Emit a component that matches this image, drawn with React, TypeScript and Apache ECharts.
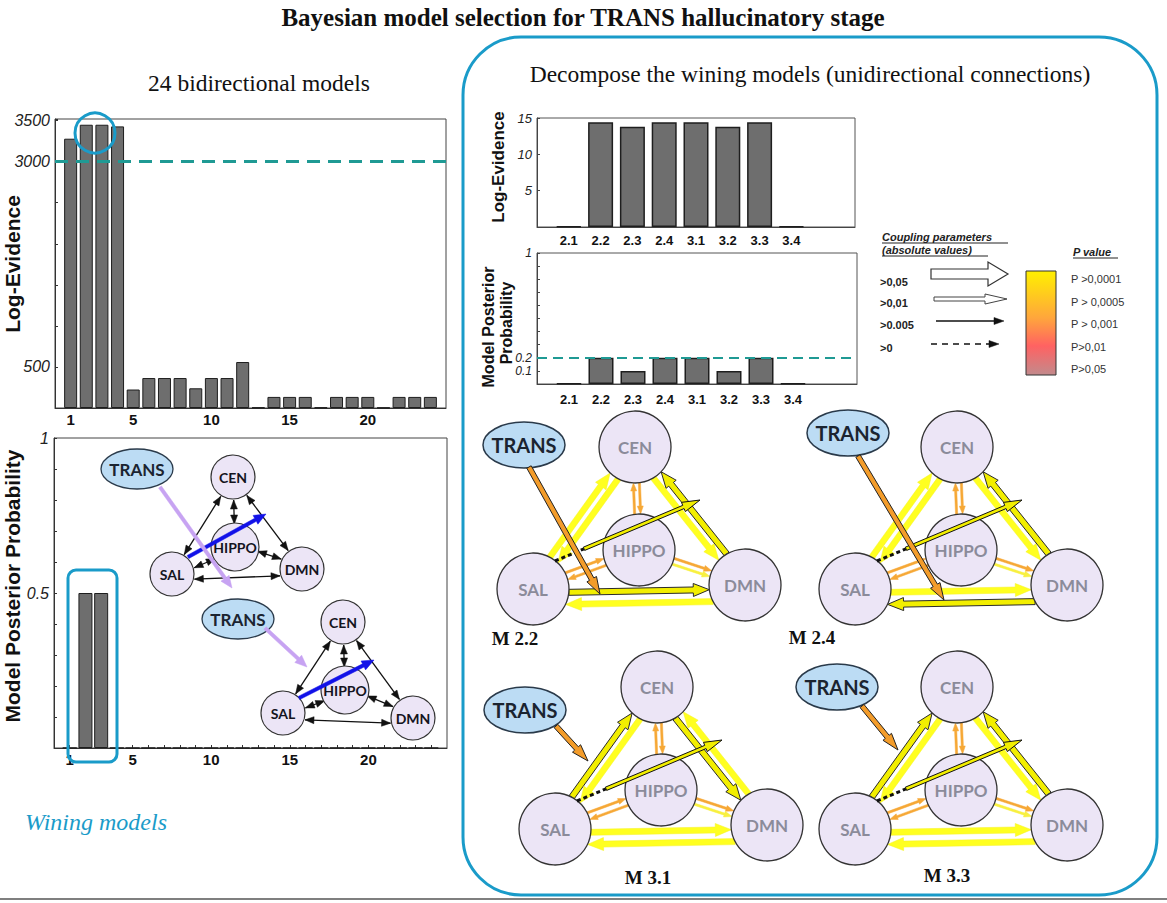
import React, { useEffect, useRef } from 'react';
import * as echarts from 'echarts';

// ---------------- DATA ----------------
const modelIds = [1, 2, 3, 4, 5, 6, 7, 8, 9, 10, 11, 12, 13, 14, 15, 16, 17, 18, 19, 20, 21, 22, 23, 24];
const logEvidence24 = [3280, 3450, 3450, 3430, 225, 365, 365, 365, 240, 365, 365, 560, 6, 135, 135, 135, 6, 135, 135, 135, 4, 135, 135, 135];
const posterior24 = [0, 0.5, 0.5, 0, 0, 0, 0, 0, 0, 0, 0, 0, 0, 0, 0, 0, 0, 0, 0, 0, 0, 0, 0, 0];
const xTickLabels24 = [1, 5, 10, 15, 20];
const logEvTickLabels = [500, 3000, 3500];
const postTickLabelsLeft = [0.5, 1];
const logEvThreshold = 3000;

const winningModels = ['2.1', '2.2', '2.3', '2.4', '3.1', '3.2', '3.3', '3.4'];
const modelSlots = [1, 2, 3, 4, 5, 6, 7, 8];
const logEvidence8 = [0.1, 14.4, 13.8, 14.4, 14.4, 13.8, 14.4, 0.1];
const posterior8 = [0.004, 0.2, 0.1, 0.2, 0.2, 0.1, 0.2, 0.004];
const logEvTickLabelsRight = [5, 10, 15];
const postTickLabelsRight = [0.1, 0.2, 1];
const postThreshold = 0.2;

const couplingLabels = ['>0,05', '>0,01', '>0.005', '>0'];
const pValueLabels = ['P >0,0001', 'P > 0,0005', 'P > 0,001', 'P>0,01', 'P>0,05'];

// ---------------- STYLE HELPERS ----------------
const SANS = '"Liberation Sans", Arial, sans-serif';
const SERIF = '"Liberation Serif", "Times New Roman", serif';
const NODEF = 'Lato, "Open Sans", sans-serif';
const TEAL = '#1a9bc9';
const DASH = '#1f9a94';

type P = [number, number];

function unit(a: P, b: P) {
  const dx = b[0] - a[0];
  const dy = b[1] - a[1];
  const L = Math.hypot(dx, dy) || 1;
  return [dx / L, dy / L, L];
}

function arrowPoints(a: P, b: P, sw: number, hw: number, hl: number) {
  const [ux, uy, L] = unit(a, b);
  const nx = -uy;
  const ny = ux;
  const h = Math.min(hl, L * 0.6);
  const bx = b[0] - ux * h;
  const by = b[1] - uy * h;
  return [
    [a[0] + (nx * sw) / 2, a[1] + (ny * sw) / 2],
    [bx + (nx * sw) / 2, by + (ny * sw) / 2],
    [bx + (nx * hw) / 2, by + (ny * hw) / 2],
    [b[0], b[1]],
    [bx - (nx * hw) / 2, by - (ny * hw) / 2],
    [bx - (nx * sw) / 2, by - (ny * sw) / 2],
    [a[0] - (nx * sw) / 2, a[1] - (ny * sw) / 2],
  ];
}

function polyArrow(a: P, b: P, sw: number, hw: number, hl: number, fill: string, stroke?: string, lw?: number, z = 20) {
  return {
    type: 'polygon',
    z,
    silent: true,
    shape: { points: arrowPoints(a, b, sw, hw, hl) },
    style: { fill, stroke: stroke || fill, lineWidth: lw || 0.5 },
  };
}

function headTri(a: P, b: P, len: number, w: number, fill: string, z = 20) {
  const [ux, uy] = unit(a, b);
  const nx = -uy;
  const ny = ux;
  const bx = b[0] - ux * len;
  const by = b[1] - uy * len;
  return {
    type: 'polygon',
    z,
    silent: true,
    shape: { points: [[b[0], b[1]], [bx + (nx * w) / 2, by + (ny * w) / 2], [bx - (nx * w) / 2, by - (ny * w) / 2]] },
    style: { fill, stroke: fill, lineWidth: 0.5 },
  };
}

function edgeEnds(c1: P, c2: P, r1: number, r2: number, off: number): [P, P] {
  const [ux, uy] = unit(c1, c2);
  const nx = -uy;
  const ny = ux;
  const d1 = Math.sqrt(Math.max(r1 * r1 - off * off, 0));
  const d2 = Math.sqrt(Math.max(r2 * r2 - off * off, 0));
  return [
    [c1[0] + ux * d1 + nx * off, c1[1] + uy * d1 + ny * off],
    [c2[0] - ux * d2 + nx * off, c2[1] - uy * d2 + ny * off],
  ];
}

function txt(x: number, y: number, text: string, size: number, opts: any = {}) {
  return {
    type: 'text',
    x,
    y,
    z: 30,
    silent: true,
    rotation: opts.rotation || 0,
    style: {
      text,
      fill: opts.fill || '#111',
      fontSize: size,
      fontFamily: opts.family || SANS,
      fontWeight: opts.weight || 'normal',
      fontStyle: opts.style || 'normal',
      align: opts.align || 'center',
      verticalAlign: opts.valign || 'middle',
    },
  };
}

// ---------------- RIGHT NETWORKS ----------------
type RNet = { cen: P; trans: P; tFrom: P; tTo: P; label: string; labelPos: P; outlined: string[] };
const rightNets: RNet[] = [
  { cen: [635, 447], trans: [524, 445], tFrom: [529, 467], tTo: [600, 594], label: 'M 2.2', labelPos: [515, 638], outlined: ['SAL>DMN', 'DMN>CEN'] },
  { cen: [957, 447], trans: [848, 433], tFrom: [858, 456], tTo: [944, 600], label: 'M 2.4', labelPos: [812, 637], outlined: ['DMN>SAL', 'DMN>CEN'] },
  { cen: [657, 687], trans: [525, 710], tFrom: [556, 726], tTo: [588, 761], label: 'M 3.1', labelPos: [648, 877], outlined: ['SAL>CEN', 'CEN>DMN'] },
  { cen: [957, 687], trans: [837, 687], tFrom: [862, 706], tTo: [898, 750], label: 'M 3.3', labelPos: [947, 875], outlined: ['SAL>CEN', 'DMN>CEN'] },
];

function rightNet(cfg: RNet) {
  const C = cfg.cen;
  const N: Record<string, P> = {
    CEN: C,
    HIPPO: [C[0] + 4, C[1] + 103],
    SAL: [C[0] - 102, C[1] + 142],
    DMN: [C[0] + 110, C[1] + 138],
  };
  const R = 36;
  const els: any[] = [];
  const yellow = (A: string, B: string, off: number, dir: 1 | -1) => {
    const [p, q] = edgeEnds(N[A], N[B], R, R, off);
    const from = dir === 1 ? p : q;
    const to = dir === 1 ? q : p;
    const key = dir === 1 ? `${A}>${B}` : `${B}>${A}`;
    const outl = cfg.outlined.indexOf(key) >= 0;
    els.push(polyArrow(from, to, 6, 13, 16, outl ? '#f2ee00' : '#ffff20', outl ? '#2a2a2a' : '#f5f020', outl ? 1 : 0.5, 12));
  };
  const thin = (A: string, B: string, off: number, dir: 1 | -1, col: string) => {
    const [p, q] = edgeEnds(N[A], N[B], R, R, off);
    const from = dir === 1 ? p : q;
    const to = dir === 1 ? q : p;
    els.push(polyArrow(from, to, 2.2, 6, 8, col, col, 0.5, 12));
  };
  const OR = '#f6a836';
  yellow('SAL', 'CEN', -5, 1);
  yellow('SAL', 'CEN', 5, -1);
  yellow('CEN', 'DMN', 5, 1);
  yellow('CEN', 'DMN', -5, -1);
  yellow('SAL', 'DMN', 4, 1);
  yellow('SAL', 'DMN', 16, -1);
  thin('CEN', 'HIPPO', -3, 1, OR);
  thin('CEN', 'HIPPO', 3, -1, OR);
  thin('SAL', 'HIPPO', -4, 1, OR);
  thin('SAL', 'HIPPO', 3, -1, OR);
  thin('HIPPO', 'DMN', -3, 1, OR);
  thin('HIPPO', 'DMN', 3, 1, '#f8f040');

  (['CEN', 'HIPPO', 'SAL', 'DMN'] as string[]).forEach((k) => {
    els.push({ type: 'circle', z: 14, silent: true, shape: { cx: N[k][0], cy: N[k][1], r: R }, style: { fill: '#ece5f6', stroke: '#333', lineWidth: 1.3 } });
    els.push({ ...txt(N[k][0], N[k][1], k, 17, { weight: 'bold', family: NODEF, fill: '#8b8b9a' }), z: 15 });
  });

  const s: P = [N.SAL[0] + 22, N.SAL[1] - 28];
  const e: P = [C[0] + 65, C[1] + 53];
  const m: P = [s[0] + (e[0] - s[0]) * 0.2, s[1] + (e[1] - s[1]) * 0.2];
  els.push({ type: 'line', z: 18, silent: true, shape: { x1: s[0], y1: s[1], x2: m[0], y2: m[1] }, style: { stroke: '#111', lineWidth: 3, lineDash: [4, 3] } });
  els.push(polyArrow(m, e, 3.5, 10, 18, '#f2ee00', '#111', 1, 18));

  els.push(polyArrow(cfg.tFrom, cfg.tTo, 5, 11, 17, '#f39c2a', '#222', 1, 19));
  els.push({ type: 'ellipse', z: 16, silent: true, shape: { cx: cfg.trans[0], cy: cfg.trans[1], rx: 41, ry: 23 }, style: { fill: '#bcdcf4', stroke: '#2a3a4a', lineWidth: 1.5 } });
  els.push({ ...txt(cfg.trans[0], cfg.trans[1], 'TRANS', 20, { weight: 'bold', family: NODEF, fill: '#1b2430' }), z: 17 });
  els.push(txt(cfg.labelPos[0], cfg.labelPos[1], cfg.label, 19, { weight: 'bold', family: SERIF }));
  return els;
}

// ---------------- LEFT NETWORKS ----------------
type LNet = { trans: P; cen: P; hippo: P; sal: P; dmn: P; blue: [P, P]; purple: [P, P] };
const leftNets: LNet[] = [
  { trans: [137, 469], cen: [233, 477], hippo: [235, 547], sal: [172, 574], dmn: [302, 569], blue: [[188, 557], [266, 514]], purple: [[160, 487], [232, 588]] },
  { trans: [238, 619], cen: [343, 622], hippo: [345, 690], sal: [283, 713], dmn: [413, 718], blue: [[299, 698], [374, 660]], purple: [[265, 628], [307, 667]] },
];

function leftNet(cfg: LNet) {
  const els: any[] = [];
  const R = 22;
  const dbl = (a: P, b: P, off = 0) => {
    const [p, q] = edgeEnds(a, b, R + 1, R + 1, off);
    els.push({ type: 'line', z: 12, silent: true, shape: { x1: p[0], y1: p[1], x2: q[0], y2: q[1] }, style: { stroke: '#111', lineWidth: 1.3 } });
    els.push(headTri(p, q, 9, 7, '#111', 12));
    els.push(headTri(q, p, 9, 7, '#111', 12));
  };
  dbl(cfg.sal, cfg.cen);
  dbl(cfg.cen, cfg.dmn);
  dbl(cfg.sal, cfg.dmn, 6);
  dbl(cfg.cen, cfg.hippo);
  dbl(cfg.sal, cfg.hippo, 3);
  dbl(cfg.hippo, cfg.dmn, -3);
  const nodes: [P, string][] = [[cfg.cen, 'CEN'], [cfg.hippo, 'HIPPO'], [cfg.sal, 'SAL'], [cfg.dmn, 'DMN']];
  nodes.forEach(([c, k]) => {
    els.push({ type: 'circle', z: 14, silent: true, shape: { cx: c[0], cy: c[1], r: k === 'HIPPO' ? 24 : R }, style: { fill: '#ece5f6', stroke: '#333', lineWidth: 1.2 } });
    els.push({ ...txt(c[0], c[1], k, 14, { weight: 'bold', family: NODEF, fill: '#141420' }), z: 15 });
  });
  els.push(polyArrow(cfg.blue[0], cfg.blue[1], 3.5, 10, 12, '#1212e8', '#1212e8', 0.5, 18));
  els.push(polyArrow(cfg.purple[0], cfg.purple[1], 3.5, 10, 12, '#c7a3f2', '#c7a3f2', 0.5, 18));
  els.push({ type: 'ellipse', z: 16, silent: true, shape: { cx: cfg.trans[0], cy: cfg.trans[1], rx: 36, ry: 20 }, style: { fill: '#bcdcf4', stroke: '#2a3a4a', lineWidth: 1.3 } });
  els.push({ ...txt(cfg.trans[0], cfg.trans[1], 'TRANS', 17, { weight: 'bold', family: NODEF, fill: '#1b2430' }), z: 17 });
  return els;
}

// ---------------- LEGEND ----------------
function legend() {
  const els: any[] = [];
  const uText = (x: number, y: number, t: string, w: number) => {
    els.push(txt(x, y, t, 11, { weight: 'bold', style: 'italic', align: 'left', fill: '#222' }));
    els.push({ type: 'line', z: 30, silent: true, shape: { x1: x, y1: y + 6, x2: x + w, y2: y + 6 }, style: { stroke: '#222', lineWidth: 1 } });
  };
  uText(882, 237, 'Coupling parameters', 126);
  uText(882, 250, '(absolute values)', 106);
  uText(1073, 252, 'P value', 45);
  const ys = [282, 303, 325, 348];
  couplingLabels.forEach((l, i) => els.push(txt(880, ys[i], l, 11, { weight: 'bold', align: 'left', fill: '#222' })));
  els.push(polyArrow([931, 274], [1008, 274], 10, 24, 20, '#ffffff', '#333', 1.2, 30));
  els.push(polyArrow([934, 299], [1007, 299], 4, 10, 22, '#ffffff', '#444', 1, 30));
  els.push({ type: 'line', z: 30, silent: true, shape: { x1: 936, y1: 321, x2: 995, y2: 321 }, style: { stroke: '#111', lineWidth: 1.6 } });
  els.push(headTri([936, 321], [1004, 321], 10, 7, '#111', 30));
  els.push({ type: 'line', z: 30, silent: true, shape: { x1: 931, y1: 344, x2: 991, y2: 344 }, style: { stroke: '#111', lineWidth: 1.4, lineDash: [6, 5] } });
  els.push(headTri([931, 344], [999, 344], 10, 7, '#111', 30));
  els.push({
    type: 'rect', z: 30, silent: true,
    shape: { x: 1026, y: 271, width: 30, height: 104 },
    style: {
      fill: new echarts.graphic.LinearGradient(0, 0, 0, 1, [
        { offset: 0, color: '#fff000' },
        { offset: 0.45, color: '#ffa63c' },
        { offset: 0.72, color: '#ff6262' },
        { offset: 1, color: '#c28a8c' },
      ]),
      stroke: '#333', lineWidth: 1,
    },
  });
  const py = [279, 302, 324, 347, 369];
  pValueLabels.forEach((l, i) => els.push(txt(1071, py[i], l, 11, { align: 'left', fill: '#333' })));
  return els;
}

// ---------------- APP ----------------
export default function App() {
  const ref = useRef<HTMLDivElement>(null);
  useEffect(() => {
    if (!ref.current) return;
    const chart = echarts.init(ref.current, null, { renderer: 'svg' });

    const barStyle = { color: '#6e6e6e', borderColor: '#1e1e1e', borderWidth: 1 };
    const xLab = (size: number, margin: number) => ({ fontWeight: 'bold', fontSize: size, color: '#111', fontFamily: SANS, margin });
    const yLab = (size: number) => ({ fontStyle: 'italic', fontSize: size, color: '#222', fontFamily: SANS, margin: 5 });
    const plain = (v: number) => String(v);
    const prob = (v: number) => (v >= 1 ? '1' : v.toFixed(1));

    const graphics: any[] = [
      { type: 'rect', z: 5, silent: true, shape: { x: 463, y: 37, width: 694, height: 858, r: 58 }, style: { fill: 'none', stroke: TEAL, lineWidth: 3 } },
      { type: 'line', z: 5, silent: true, shape: { x1: 0, y1: 899, x2: 1167, y2: 899 }, style: { stroke: '#555', lineWidth: 1.5 } },
      txt(583, 17, 'Bayesian model selection for TRANS hallucinatory stage', 25, { weight: 'bold', family: SERIF }),
      txt(259, 83, '24 bidirectional models', 23.5, { family: SERIF }),
      txt(810, 74, 'Decompose the wining models (unidirectional connections)', 23.5, { family: SERIF }),
      txt(25, 822, 'Wining models', 24, { family: SERIF, style: 'italic', fill: TEAL, align: 'left' }),
      txt(12, 264, 'Log-Evidence', 21, { weight: 'bold', rotation: Math.PI / 2 }),
      txt(12, 586, 'Model Posterior Probability', 21, { weight: 'bold', rotation: Math.PI / 2 }),
      txt(498, 167, 'Log-Evidence', 17, { weight: 'bold', rotation: Math.PI / 2 }),
      txt(488, 327, 'Model Posterior', 16, { weight: 'bold', rotation: Math.PI / 2 }),
      txt(506, 323, 'Probability', 16, { weight: 'bold', rotation: Math.PI / 2 }),
      { type: 'circle', z: 25, silent: true, shape: { cx: 95, cy: 133, r: 20 }, style: { fill: 'none', stroke: TEAL, lineWidth: 3 } },
      { type: 'rect', z: 25, silent: true, shape: { x: 68, y: 570, width: 49, height: 192, r: 8 }, style: { fill: 'none', stroke: TEAL, lineWidth: 3 } },
      ...leftNets.flatMap(leftNet),
      ...rightNets.flatMap(rightNet),
      ...legend(),
    ];

    chart.setOption({
      animation: false,
      backgroundColor: '#ffffff',
      grid: [
        { left: 55, top: 119, width: 391, height: 289, show: true, borderColor: '#444', borderWidth: 1 },
        { left: 54, top: 438, width: 393, height: 310, show: true, borderColor: '#444', borderWidth: 1 },
        { left: 537, top: 118, width: 318, height: 109, show: true, borderColor: '#555', borderWidth: 1 },
        { left: 537, top: 253, width: 320, height: 131, show: true, borderColor: '#555', borderWidth: 1 },
      ],
      xAxis: [
        { gridIndex: 0, type: 'value', min: 0, max: 25, splitLine: { show: false }, axisLine: { lineStyle: { color: '#333' } }, axisTick: { show: false }, axisLabel: { ...xLab(15, 4), customValues: xTickLabels24, formatter: plain } },
        { gridIndex: 1, type: 'value', min: 0, max: 25, splitLine: { show: false }, axisLine: { lineStyle: { color: '#333' } }, axisTick: { inside: true, length: 3, customValues: modelIds, lineStyle: { color: '#333' } }, axisLabel: { ...xLab(15, 4), customValues: xTickLabels24, formatter: plain } },
        { gridIndex: 2, type: 'value', min: 0, max: 10, splitLine: { show: false }, axisLine: { lineStyle: { color: '#444' } }, axisTick: { show: false }, axisLabel: { ...xLab(13, 7), customValues: modelSlots, formatter: (v: number) => winningModels[Math.round(v) - 1] || '' } },
        { gridIndex: 3, type: 'value', min: 0, max: 10, splitLine: { show: false }, axisLine: { lineStyle: { color: '#444' } }, axisTick: { show: false }, axisLabel: { ...xLab(13, 9), customValues: modelSlots, formatter: (v: number) => winningModels[Math.round(v) - 1] || '' } },
      ],
      yAxis: [
        { gridIndex: 0, type: 'value', min: 0, max: 3520, interval: 500, splitLine: { show: false }, axisLine: { show: true, lineStyle: { color: '#333' } }, axisTick: { show: true, inside: true, length: 3 }, axisLabel: { ...yLab(16), customValues: logEvTickLabels, formatter: plain } },
        { gridIndex: 1, type: 'value', min: 0, max: 1, interval: 0.1, splitLine: { show: false }, axisLine: { show: true, lineStyle: { color: '#333' } }, axisTick: { show: true, inside: true, length: 3 }, axisLabel: { ...yLab(16), customValues: postTickLabelsLeft, formatter: prob } },
        { gridIndex: 2, type: 'value', min: 0, max: 15, interval: 5, splitLine: { show: false }, axisLine: { show: true, lineStyle: { color: '#444' } }, axisTick: { show: true, inside: true, length: 3 }, axisLabel: { ...yLab(13), customValues: logEvTickLabelsRight, formatter: plain } },
        { gridIndex: 3, type: 'value', min: 0, max: 1, interval: 0.1, splitLine: { show: false }, axisLine: { show: true, lineStyle: { color: '#444' } }, axisTick: { show: true, inside: true, length: 3 }, axisLabel: { ...yLab(12), customValues: postTickLabelsRight, formatter: prob } },
      ],
      series: [
        {
          type: 'bar', xAxisIndex: 0, yAxisIndex: 0, barWidth: 13, itemStyle: barStyle,
          data: modelIds.map((m, i) => [m, logEvidence24[i]]),
          markLine: { symbol: 'none', silent: true, label: { show: false }, lineStyle: { color: DASH, type: [13, 8], width: 3 }, data: [{ yAxis: logEvThreshold }] },
        },
        {
          type: 'bar', xAxisIndex: 1, yAxisIndex: 1, barWidth: 14, itemStyle: barStyle,
          data: modelIds.map((m, i) => [m, posterior24[i]]),
        },
        {
          type: 'bar', xAxisIndex: 2, yAxisIndex: 2, barWidth: 25, itemStyle: { ...barStyle, borderWidth: 1.5 },
          data: modelSlots.map((m, i) => [m, logEvidence8[i]]),
        },
        {
          type: 'bar', xAxisIndex: 3, yAxisIndex: 3, barWidth: 25, itemStyle: { ...barStyle, borderWidth: 1.5 },
          data: modelSlots.map((m, i) => [m, posterior8[i]]),
          markLine: { symbol: 'none', silent: true, label: { show: false }, lineStyle: { color: DASH, type: [10, 6], width: 2 }, data: [{ yAxis: postThreshold }] },
        },
      ],
      graphic: { elements: graphics },
    });

    return () => chart.dispose();
  }, []);

  return <div ref={ref} style={{ position: 'fixed', left: 0, top: 0, width: 1167, height: 903, background: '#fff' }} />;
}
